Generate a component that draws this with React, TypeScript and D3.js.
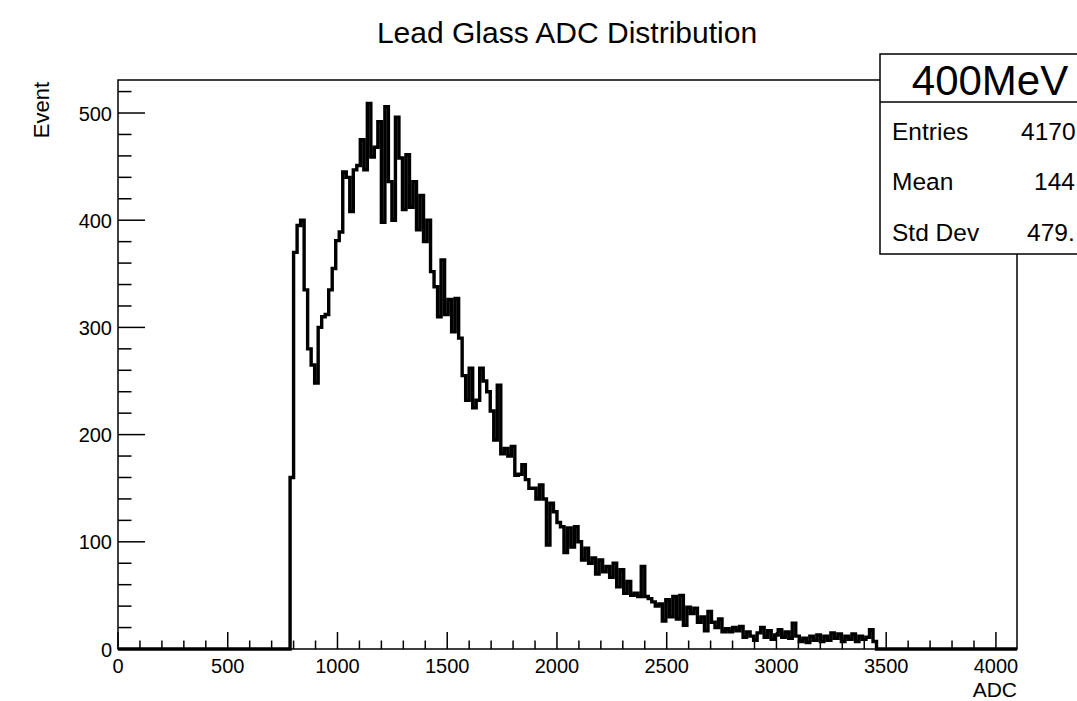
import React from "react";
import * as d3 from "d3";

// ---- data ----
const histTitle = "Lead Glass ADC Distribution";
const xAxisTitle = "ADC";
const yAxisTitle = "Event";
const xDomain = [0, 4096];
const yDomain = [0, 530.8];
const binWidth = 16;
const firstBinEdge = 784;
const counts = [
  160, 370, 395, 400, 335, 280, 265, 248, 300, 310,
  312, 335, 355, 381, 389, 445, 440, 408, 447, 451,
  475, 447, 509, 459, 468, 492, 398, 506, 436, 400,
  496, 458, 410, 461, 412, 436, 391, 423, 380, 400,
  352, 338, 310, 363, 312, 326, 296, 327, 290, 255,
  232, 262, 225, 232, 262, 250, 240, 222, 195, 246,
  182, 187, 180, 189, 162, 163, 172, 158, 150, 150,
  140, 153, 140, 97, 136, 128, 118, 114, 90, 113,
  95, 114, 100, 83, 94, 80, 85, 70, 83, 72,
  77, 67, 80, 58, 74, 52, 63, 50, 52, 49,
  77, 49, 47, 44, 40, 42, 26, 46, 30, 49,
  28, 50, 22, 39, 33, 38, 25, 30, 17, 35,
  25, 20, 28, 16, 19, 16, 20, 17, 21, 11,
  16, 12, 8, 15, 20, 11, 17, 9, 13, 18,
  11, 16, 10, 24, 12, 7, 10, 6, 12, 8,
  13, 7, 12, 8, 15, 10, 14, 7, 12, 9,
  14, 7, 12, 9, 11, 18, 7,
];
const xMajorTicks = [0, 500, 1000, 1500, 2000, 2500, 3000, 3500, 4000];
const yMajorTicks = [0, 100, 200, 300, 400, 500];
const statsTitle = "400MeV";
const statsLabels = ["Entries", "Mean", "Std Dev"];
// visible parts of the stats values (the box runs past the window edge)
const statsValues = ["4170", "144", "479."];

// ---- layout ----
const W = 1077;
const H = 701;
const L = 118;
const R = 1017;
const T = 80;
const B = 649;
const FONT = "'Liberation Sans', Arial, Helvetica, sans-serif";

export default function App() {
  const x = d3.scaleLinear().domain(xDomain).range([L, R]);
  const y = d3.scaleLinear().domain(yDomain).range([B, T]);

  const pts: [number, number][] = [];
  pts.push([xDomain[0], 0]);
  counts.forEach((c, i) => pts.push([firstBinEdge + i * binWidth, c]));
  const lastEdge = firstBinEdge + counts.length * binWidth;
  pts.push([lastEdge, 0]);
  pts.push([xDomain[1], 0]);
  const line = d3
    .line<[number, number]>()
    .x((d) => x(d[0]))
    .y((d) => y(d[1]))
    .curve(d3.curveStepAfter);
  const path = line(pts) || "";

  const xMinor = d3.range(0, xDomain[1] + 1, 100).filter((v) => v % 500 !== 0);
  const yMinor = d3.range(0, yDomain[1], 20).filter((v) => v % 100 !== 0);

  const boxX = 880;
  const boxY = 54;
  const boxW = 220;
  const boxH = 200;
  const boxDiv = 102;
  const rowBase = [140, 190, 241];
  const valueStart = [1021, 1034, 1027];

  return (
    <svg
      width={W}
      height={H}
      style={{ position: "absolute", left: 0, top: 0, background: "#fff" }}
      fontFamily={FONT}
    >
      <rect x={0} y={0} width={W} height={H} fill="#fff" />
      <text x={567} y={43} fontSize={30} textAnchor="middle" fill="#000">
        {histTitle}
      </text>

      <defs>
        <clipPath id="plotclip">
          <rect x={L - 2} y={T} width={R - L + 4} height={B - T + 3} />
        </clipPath>
      </defs>
      <path
        d={path}
        fill="none"
        stroke="#000"
        strokeWidth={3.4}
        strokeLinejoin="miter"
        clipPath="url(#plotclip)"
      />

      <rect x={L} y={T} width={R - L} height={B - T} fill="none" stroke="#000" strokeWidth={1.5} />

      {xMajorTicks.map((v) => (
        <line key={"xM" + v} x1={x(v)} x2={x(v)} y1={B} y2={B - 17} stroke="#000" strokeWidth={1.5} />
      ))}
      {xMinor.map((v) => (
        <line key={"xm" + v} x1={x(v)} x2={x(v)} y1={B} y2={B - 8.5} stroke="#000" strokeWidth={1.5} />
      ))}
      {xMajorTicks.map((v) => (
        <text key={"xl" + v} x={x(v)} y={B + 24} fontSize={20} textAnchor="middle" fill="#000">
          {String(v)}
        </text>
      ))}
      <text x={R} y={697} fontSize={21} textAnchor="end" fill="#000">
        {xAxisTitle}
      </text>

      {yMajorTicks.map((v) => (
        <line key={"yM" + v} x1={L} x2={L + 27} y1={y(v)} y2={y(v)} stroke="#000" strokeWidth={1.5} />
      ))}
      {yMinor.map((v) => (
        <line key={"ym" + v} x1={L} x2={L + 13.5} y1={y(v)} y2={y(v)} stroke="#000" strokeWidth={1.5} />
      ))}
      {yMajorTicks.map((v) => (
        <text key={"yl" + v} x={112} y={y(v) + 7.5} fontSize={20} textAnchor="end" fill="#000">
          {String(v)}
        </text>
      ))}
      <text
        x={49}
        y={82}
        fontSize={22}
        textAnchor="end"
        fill="#000"
        transform="rotate(-90, 49, 82)"
      >
        {yAxisTitle}
      </text>

      <rect x={boxX} y={boxY} width={boxW} height={boxH} fill="#fff" stroke="#000" strokeWidth={1.5} />
      <line x1={boxX} x2={boxX + boxW} y1={boxDiv} y2={boxDiv} stroke="#000" strokeWidth={1.5} />
      <text x={boxX + boxW / 2} y={95} fontSize={42} textAnchor="middle" fill="#000">
        {statsTitle}
      </text>
      {statsLabels.map((s, i) => (
        <text key={"sl" + s} x={892} y={rowBase[i]} fontSize={24.5} fill="#000">
          {s}
        </text>
      ))}
      {statsValues.map((s, i) => (
        <text key={"sv" + i} x={valueStart[i]} y={rowBase[i]} fontSize={24.5} fill="#000">
          {s}
        </text>
      ))}
    </svg>
  );
}
